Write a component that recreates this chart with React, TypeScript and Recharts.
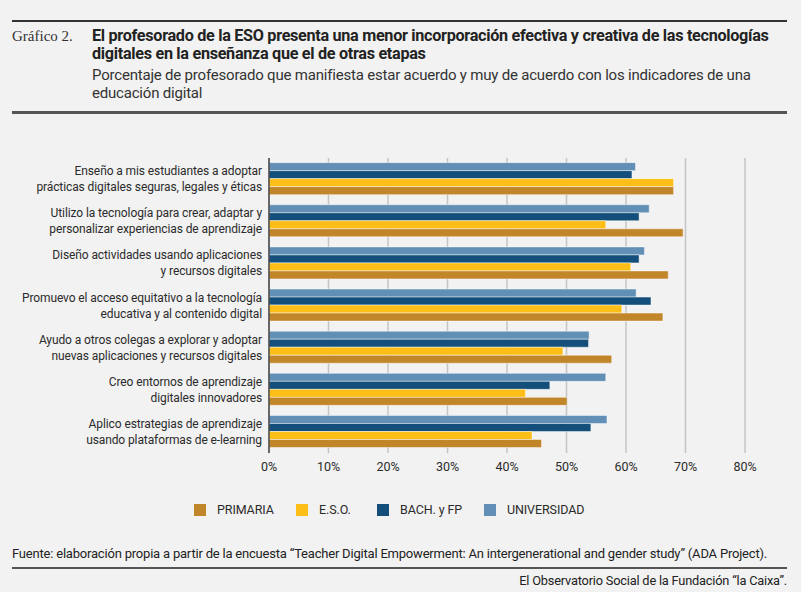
import React from "react";
import { BarChart, Bar, XAxis, YAxis, CartesianGrid } from "recharts";

const CATEGORIES = [
	"Enseño a mis estudiantes a adoptar|prácticas digitales seguras, legales y éticas",
	"Utilizo la tecnología para crear, adaptar y|personalizar experiencias de aprendizaje",
	"Diseño actividades usando aplicaciones|y recursos digitales",
	"Promuevo el acceso equitativo a la tecnología|educativa y al contenido digital",
	"Ayudo a otros colegas a explorar y adoptar|nuevas aplicaciones y recursos digitales",
	"Creo entornos de aprendizaje|digitales innovadores",
	"Aplico estrategias de aprendizaje|usando plataformas de e-learning",
];

const PRIMARIA = [68.0, 69.6, 67.1, 66.2, 57.6, 50.1, 45.8];
const ESO = [68.0, 56.6, 60.8, 59.3, 49.4, 43.1, 44.2];
const BACH_FP = [61.0, 62.2, 62.2, 64.2, 53.7, 47.2, 54.1];
const UNIVERSIDAD = [61.6, 63.9, 63.1, 61.7, 53.8, 56.6, 56.8];

const X_TICKS = [0, 10, 20, 30, 40, 50, 60, 70, 80];

// legend order; bars are drawn in reverse so UNIVERSIDAD sits on top
const SERIES = [
	{ key: "primaria", name: "PRIMARIA", color: "#c2862a", x: 194 },
	{ key: "eso", name: "E.S.O.", color: "#fdbf17", x: 296 },
	{ key: "bach", name: "BACH. y FP", color: "#134f7a", x: 377 },
	{ key: "univ", name: "UNIVERSIDAD", color: "#628fb5", x: 484 },
];

const data = CATEGORIES.map((label, i) => ({
	label,
	primaria: PRIMARIA[i],
	eso: ESO[i],
	bach: BACH_FP[i],
	univ: UNIVERSIDAD[i],
}));

const SANS = "Roboto, 'Liberation Sans', sans-serif";
const TEXT = "#2b2b2b";

function CategoryTick({ x, y, payload }: any) {
	const lines = String(payload.value).split("|");
	return (
		<text x={x + 1} y={y} textAnchor="end" fontSize={12} letterSpacing={-0.1} fill={TEXT} fontFamily={SANS}>
			{lines.map((line, i) => (
				<tspan key={i} x={x + 1} dy={i === 0 ? -4 : 16}>
					{line}
				</tspan>
			))}
		</text>
	);
}

export default function App() {
	return (
		<div
			style={{
				position: "absolute",
				left: 0,
				top: 0,
				width: 801,
				height: 592,
				background: "#f2f2f2",
				fontFamily: SANS,
				color: TEXT,
			}}
		>
			<div style={{ position: "absolute", left: 12, top: 20, width: 775, height: 2, background: "#333" }} />
			<div
				style={{
					position: "absolute",
					left: 12,
					top: 28,
					fontFamily: "'Liberation Serif', serif",
					fontSize: 15,
					color: "#333",
				}}
			>
				Gráfico 2.
			</div>
			<div
				style={{
					position: "absolute",
					left: 92,
					top: 27,
					width: 705,
					fontSize: 16.2,
					fontWeight: 700,
					lineHeight: "18px",
					letterSpacing: -0.3,
					color: "#222",
					whiteSpace: "nowrap",
				}}
			>
				El profesorado de la ESO presenta una menor incorporación efectiva y creativa de las tecnologías
				<br />
				digitales en la enseñanza que el de otras etapas
			</div>
			<div
				style={{
					position: "absolute",
					left: 92,
					top: 66,
					width: 705,
					fontSize: 15,
					lineHeight: "18px",
					letterSpacing: -0.2,
					color: "#333",
					whiteSpace: "nowrap",
				}}
			>
				Porcentaje de profesorado que manifiesta estar acuerdo y muy de acuerdo con los indicadores de una
				<br />
				educación digital
			</div>
			<div style={{ position: "absolute", left: 12, top: 111, width: 775, height: 3, background: "#555" }} />

			<div style={{ position: "absolute", left: 0, top: 140 }}>
				<BarChart
					width={801}
					height={340}
					data={data}
					layout="vertical"
					barCategoryGap="11%"
					barGap={0}
					margin={{ top: 18, right: 56, left: 0, bottom: 0 }}
				>
					<CartesianGrid horizontal={false} stroke="#c4c4c4" strokeWidth={1.5} />
					<XAxis
						type="number"
						domain={[0, 80]}
						ticks={X_TICKS}
						tickFormatter={(v) => `${v}%`}
						axisLine={false}
						tickLine={false}
						tick={{ fontSize: 12.5, fill: TEXT, fontFamily: SANS }}
						height={27}
						tickMargin={3}
					/>
					<YAxis
						type="category"
						dataKey="label"
						width={269}
						axisLine={{ stroke: "#444", strokeWidth: 1.5 }}
						tickLine={false}
						tick={<CategoryTick />}
						interval={0}
					/>
					{[...SERIES].reverse().map((s) => (
						<Bar
							key={s.key}
							dataKey={s.key}
							name={s.name}
							fill={s.color}
							stroke="rgba(255,255,255,0.45)"
							strokeWidth={1}
							isAnimationActive={false}
						/>
					))}
				</BarChart>
			</div>

			{SERIES.map((s) => (
				<div key={s.key} style={{ position: "absolute", left: s.x, top: 503, display: "flex", alignItems: "center" }}>
					<span style={{ display: "inline-block", width: 12, height: 12, background: s.color, marginRight: 11 }} />
					<span style={{ fontSize: 12.5, color: TEXT, lineHeight: "14px", letterSpacing: -0.1 }}>{s.name}</span>
				</div>
			))}

			<div style={{ position: "absolute", left: 12, top: 546, fontSize: 13, color: "#222", letterSpacing: -0.2, whiteSpace: "nowrap" }}>
				Fuente: elaboración propia a partir de la encuesta “Teacher Digital Empowerment: An intergenerational and gender study” (ADA Project).
			</div>
			<div style={{ position: "absolute", left: 12, top: 567, width: 775, height: 2, background: "#555" }} />
			<div style={{ position: "absolute", right: 14, top: 573, fontSize: 12.8, color: "#222", letterSpacing: -0.2, whiteSpace: "nowrap" }}>
				El Observatorio Social de la Fundación “la Caixa”.
			</div>
		</div>
	);
}
